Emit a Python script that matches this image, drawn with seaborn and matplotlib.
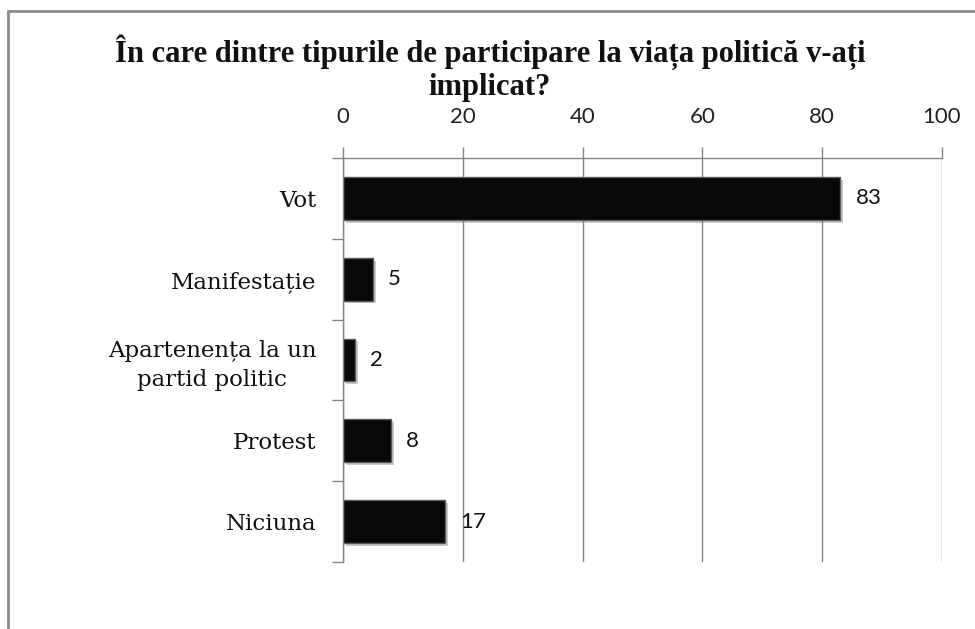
import matplotlib
matplotlib.use("Agg")
import matplotlib.pyplot as plt
import seaborn as sns
import pandas as pd
from matplotlib import patheffects as pe
from matplotlib.lines import Line2D
from matplotlib.ticker import FixedLocator

categories = ["Vot", "Manifestație", "Apartenența la un\npartid politic", "Protest", "Niciuna"]
values = [83, 5, 2, 8, 17]
x_ticks = [0, 20, 40, 60, 80, 100]
title = "În care dintre tipurile de participare la viața politică v-ați\nimplicat?"

df = pd.DataFrame({"cat": categories, "val": values})

sns.set_theme(style="white")
plt.rcParams["font.family"] = ["DejaVu Serif", "Liberation Serif"]

fig = plt.figure(figsize=(9.75, 6.29), dpi=100)
ax = fig.add_axes([343/975, 1-562/629, (942-343)/975, (562-158)/629])

sns.barplot(data=df, y="cat", x="val", orient="h", color="#080808", width=0.53,
            edgecolor="#5a5a5a", linewidth=1.0, ax=ax, saturation=1)
for p in ax.patches:
    p.set_path_effects([pe.SimplePatchShadow(offset=(2, -2), alpha=0.35, shadow_rgbFace="#666666"), pe.Normal()])

ax.set_xlim(0, 100)
ax.set_ylim(4.5, -0.5)
ax.set_xlabel("")
ax.set_ylabel("")

ax.xaxis.tick_top()
ax.set_xticks(x_ticks)
ax.tick_params(axis="x", which="major", direction="out", length=8, width=1, color="#868686",
               pad=14, labelsize=16)
for lbl in ax.get_xticklabels():
    lbl.set_fontfamily(["Lato", "DejaVu Sans"])
    lbl.set_color("#222222")

ax.grid(axis="x", color="#868686", linewidth=1)
ax.set_axisbelow(True)

ax.yaxis.set_minor_locator(FixedLocator([-0.5, 0.5, 1.5, 2.5, 3.5, 4.5]))
ax.tick_params(axis="y", which="major", length=0, pad=19, labelsize=16.5, labelcolor="#111111")
ax.tick_params(axis="y", which="minor", length=8, width=1, color="#868686", left=True)
for lbl in ax.get_yticklabels():
    lbl.set_multialignment("center")
    lbl.set_linespacing(1.4)

for s in ["right", "bottom"]:
    ax.spines[s].set_visible(False)
for s in ["top", "left"]:
    ax.spines[s].set_color("#868686")
    ax.spines[s].set_linewidth(1)

ax.bar_label(ax.containers[0], labels=[str(v) for v in values], padding=11,
             fontsize=16, color="#111111", family=["Lato", "DejaVu Sans"])

fig.text(490/975, 1-68/629, title, ha="center", va="center", fontsize=22,
         fontweight="bold", linespacing=1.15, color="#111111",
         family=["Liberation Serif", "DejaVu Serif"])

# outer frame
fig.add_artist(Line2D([8/975, 1.0], [1-11/629, 1-11/629], transform=fig.transFigure,
                      color="#8c8c8c", linewidth=2))
fig.add_artist(Line2D([8/975, 8/975], [0.0, 1-11/629], transform=fig.transFigure,
                      color="#8c8c8c", linewidth=2))

fig.savefig("out.png", dpi=100)
